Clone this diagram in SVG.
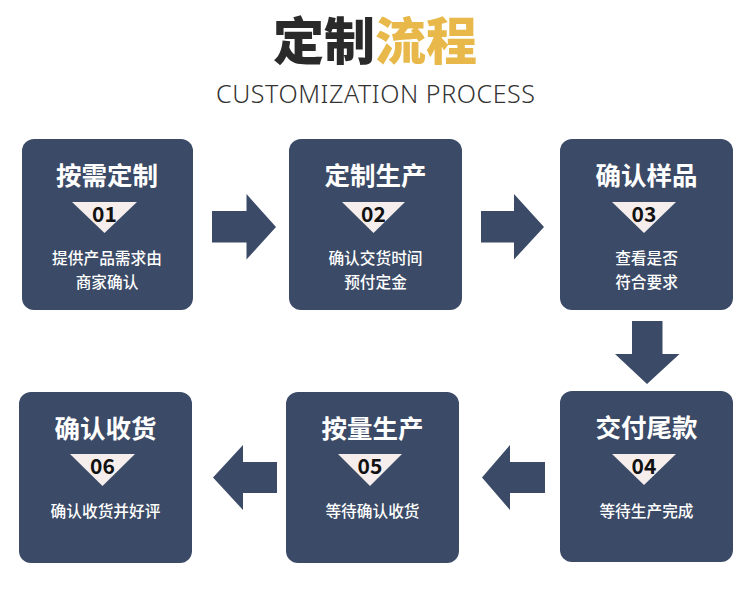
<svg xmlns="http://www.w3.org/2000/svg" width="750" height="596" viewBox="0 0 750 596">
<defs>
<style>
.box{fill:#3b4a66;}
.tri{fill:#f5eeec;}
.arr{fill:#3b4a66;}
.ttl{font-family:"Noto Sans CJK SC","Noto Sans",sans-serif;font-weight:700;font-size:25.5px;fill:#ffffff;text-anchor:middle;}
.num{font-family:"Noto Sans CJK SC","Noto Sans",sans-serif;font-weight:700;font-size:21px;fill:#111111;text-anchor:middle;}
.body{font-family:"Noto Sans CJK SC","Noto Sans",sans-serif;font-weight:500;font-size:15.7px;fill:#ffffff;text-anchor:middle;}
.big{font-family:"Noto Sans CJK SC",sans-serif;font-weight:900;font-size:51px;}
</style>
</defs>
<rect width="750" height="596" fill="#ffffff"/>
<g id="title">
<text class="big" x="375" y="59.5" fill="#2a2a2a" text-anchor="end">定制</text>
<text class="big" x="375" y="59.5" fill="#e8b94a" text-anchor="start">流程</text>
<text x="375.5" y="103" font-family="'Noto Sans','Noto Sans CJK SC',sans-serif" font-weight="300" font-size="25" fill="#333333" text-anchor="middle" textLength="319" lengthAdjust="spacing">CUSTOMIZATION PROCESS</text>
</g>
<g id="connectors">
<polygon class="arr" points="212,211 246.5,211 246.5,194 276,227 246.5,259.5 246.5,242.5 212,242.5"/>
<polygon class="arr" points="481,211 514,211 514,194 544,227 514,259.5 514,242.5 481,242.5"/>
<polygon class="arr" points="632,321 662.5,321 662.5,354 679.5,354 647,384 615,354 632,354"/>
<polygon class="arr" points="545,462 510,462 510,445 482,477.5 510,510 510,493 545,493"/>
<polygon class="arr" points="277,462 243,462 243,445 213,477.5 243,510 243,493 277,493"/>
</g>
<g id="node1">
<rect class="box" x="22" y="139" width="171" height="171" rx="12"/>
<text class="ttl" x="107" y="185">按需定制</text>
<polygon class="tri" points="72,202 137,202 104.5,233"/>
<text class="num" x="104.5" y="222">01</text>
<text class="body" x="107" y="264">提供产品需求由</text>
<text class="body" x="107" y="287.5">商家确认</text>
</g>
<g id="node2">
<rect class="box" x="289" y="139" width="173" height="171" rx="12"/>
<text class="ttl" x="375.5" y="185">定制生产</text>
<polygon class="tri" points="342,202 405,202 373.5,233"/>
<text class="num" x="373.5" y="222">02</text>
<text class="body" x="375.5" y="264">确认交货时间</text>
<text class="body" x="375.5" y="287.5">预付定金</text>
</g>
<g id="node3">
<rect class="box" x="560" y="139" width="173" height="171" rx="12"/>
<text class="ttl" x="646.5" y="185">确认样品</text>
<polygon class="tri" points="612,202 676,202 644,233"/>
<text class="num" x="644" y="222">03</text>
<text class="body" x="646.5" y="264">查看是否</text>
<text class="body" x="646.5" y="287.5">符合要求</text>
</g>
<g id="node4">
<rect class="box" x="560" y="391" width="173" height="171" rx="12"/>
<text class="ttl" x="646.5" y="437">交付尾款</text>
<polygon class="tri" points="612,454 676,454 644,485"/>
<text class="num" x="644" y="474">04</text>
<text class="body" x="646.5" y="516.5">等待生产完成</text>
</g>
<g id="node5">
<rect class="box" x="286" y="392" width="173" height="171" rx="12"/>
<text class="ttl" x="372.5" y="438">按量生产</text>
<polygon class="tri" points="338,454 402,454 370,486"/>
<text class="num" x="370" y="474">05</text>
<text class="body" x="372.5" y="517">等待确认收货</text>
</g>
<g id="node6">
<rect class="box" x="19" y="392" width="173" height="171" rx="12"/>
<text class="ttl" x="105.5" y="438">确认收货</text>
<polygon class="tri" points="70,454 135,454 102.5,486"/>
<text class="num" x="102.5" y="474">06</text>
<text class="body" x="105.5" y="517">确认收货并好评</text>
</g>
</svg>
